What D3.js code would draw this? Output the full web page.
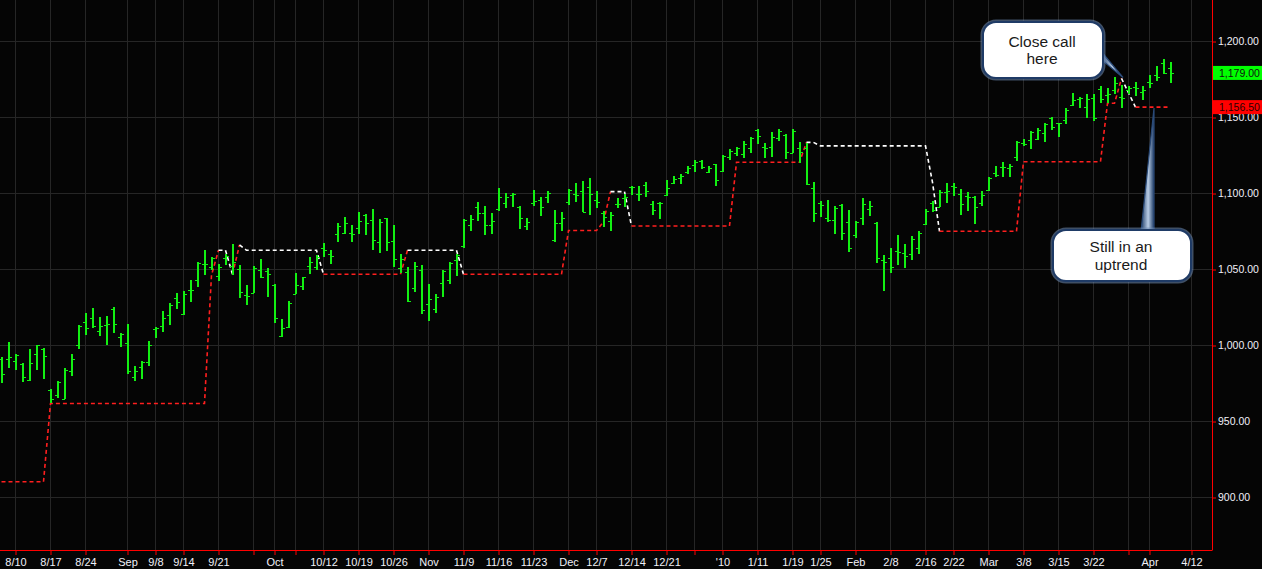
<!DOCTYPE html>
<html><head><meta charset="utf-8">
<script src="https://cdn.jsdelivr.net/npm/d3@7"></script>
<style>html,body{margin:0;padding:0;background:#050505;overflow:hidden}</style>
</head><body><svg id="c" width="1262" height="569"></svg>
<script>
// ---- data (daily bars, index 0 = 8/6/2009) ----
const openP = [990.6,990.6,989.4,987.3,976.8,993.9,997.4,970.4,966.9,964.3,982.7,1000.0,1015.4,1017.5,1009.4,1013.2,1023.5,1005.3,1001.1,979.2,
985.7,989.0,1010.7,1012.5,1019.5,1030.7,1020.2,1036.0,1042.8,1053.1,1051.1,1045.4,1057.0,1052.0,1049.8,1032.9,1034.4,1049.3,1048.5,1039.5,
1006.0,1011.8,1033.3,1038.8,1052.0,1051.0,1063.6,1059.6,1073.0,1073.5,1073.5,1076.8,1085.5,1082.2,1068.0,1083.3,1068.4,1050.4,1048.2,1037.3,
1049.3,1026.8,1023.5,1040.6,1042.8,1055.9,1065.1,1078.9,1091.0,1086.6,1078.9,1089.3,1093.2,1098.7,1090.6,1078.3,1093.2,1095.4,1097.6,1069.1,
1080.0,1094.3,1099.1,1101.3,1103.7,1095.4,1086.6,1081.6,1092.5,1096.9,1104.2,1099.3,1105.3,1092.5,1093.2,1098.7,1106.8,1109.6,1113.6,1118.4,
1121.3,1114.0,1118.9,1114.5,1123.9,1126.1,1125.4,1129.6,1141.4,1130.0,1130.0,1136.0,1138.2,1126.5,1129.4,1129.4,1103.1,1093.2,1083.8,1082.2,
1092.1,1080.7,1072.4,1083.3,1089.3,1080.0,1055.9,1057.5,1061.8,1060.5,1060.0,1064.0,1079.5,1093.2,1091.0,1100.9,1104.6,1099.1,1098.0,1097.6,
1093.2,1102.0,1113.4,1117.3,1116.2,1123.9,1132.7,1134.9,1135.3,1139.3,1149.1,1145.8,1148.0,1157.9,1162.1,1156.8,1162.3,1168.2,1164.5,1167.8,
1163.4,1167.8,1169.5,1166.7,1173.2,1177.6,1185.3,1182.0];
const highP = [991.9,1001.8,994.0,987.9,997.4,1000.0,997.8,970.8,976.3,985.1,994.1,1013.2,1020.8,1024.1,1018.2,1019.1,1024.8,1008.1,1013.8,986.2,
989.5,1002.6,1011.8,1022.4,1027.4,1034.0,1035.7,1042.8,1054.4,1062.5,1057.7,1053.1,1059.9,1066.4,1052.6,1039.5,1052.0,1056.6,1050.4,1040.1,
1017.0,1028.9,1047.1,1045.0,1057.7,1059.2,1067.3,1062.5,1080.5,1084.2,1078.9,1087.5,1086.2,1089.3,1082.9,1083.6,1078.9,1059.9,1051.5,1054.4,
1052.6,1040.1,1033.3,1049.3,1054.4,1059.9,1082.7,1085.5,1094.1,1091.4,1087.1,1103.3,1099.8,1099.8,1091.4,1083.3,1102.0,1097.1,1101.3,1088.8,
1087.7,1102.6,1106.4,1107.9,1109.6,1101.3,1088.4,1087.3,1096.5,1099.1,1104.8,1104.6,1107.0,1094.7,1093.9,1108.3,1111.2,1112.3,1117.8,1121.7,
1121.7,1117.8,1119.1,1125.0,1128.7,1130.5,1134.2,1136.6,1141.9,1133.1,1140.4,1141.9,1139.0,1141.9,1133.3,1132.7,1107.0,1094.7,1095.4,1091.4,
1092.5,1088.8,1081.6,1096.5,1094.7,1080.7,1059.2,1063.6,1072.4,1066.2,1072.0,1075.0,1089.3,1094.7,1102.0,1106.4,1106.4,1102.6,1100.4,1098.0,
1101.5,1110.7,1117.8,1120.4,1118.9,1134.2,1135.3,1141.0,1142.5,1145.8,1149.8,1146.3,1155.7,1166.0,1163.4,1164.9,1165.1,1170.4,1168.9,1176.1,
1171.1,1170.4,1173.2,1170.4,1177.6,1183.6,1187.9,1186.2];
const lowP = [975.2,985.1,983.8,975.9,976.5,983.6,977.6,962.1,964.9,964.3,979.8,997.4,1006.6,1011.0,1006.1,1000.0,1008.1,998.9,980.9,976.5,
977.4,986.4,1004.8,1008.8,1013.2,1023.7,1020.0,1028.5,1038.4,1046.1,1049.3,1042.3,1052.6,1046.1,1031.1,1026.3,1034.0,1043.9,1031.8,1014.7,
1005.5,1011.4,1033.3,1036.2,1046.7,1049.3,1057.7,1053.3,1068.0,1073.0,1068.0,1073.0,1072.4,1062.5,1060.7,1062.1,1051.5,1047.1,1028.5,1035.1,
1020.2,1016.0,1021.3,1031.8,1039.9,1045.4,1064.0,1075.2,1081.6,1072.4,1073.0,1088.4,1090.4,1090.8,1076.3,1075.7,1091.4,1084.9,1093.6,1068.0,
1075.0,1092.1,1094.3,1087.5,1085.5,1090.4,1077.4,1075.2,1089.9,1091.0,1098.7,1094.7,1097.4,1085.5,1083.1,1098.2,1105.7,1106.1,1112.7,1113.8,
1115.6,1112.9,1104.8,1114.0,1121.7,1124.6,1122.8,1126.5,1132.0,1122.8,1123.9,1134.4,1122.1,1126.5,1120.0,1105.0,1081.1,1084.4,1080.7,1073.2,
1069.1,1061.4,1070.6,1079.0,1085.1,1054.2,1035.7,1047.6,1052.6,1050.9,1056.0,1060.0,1078.9,1087.7,1091.0,1093.6,1098.0,1085.5,1088.4,1079.4,
1091.4,1101.5,1110.3,1110.3,1110.3,1121.1,1130.9,1128.7,1134.9,1133.8,1141.4,1136.6,1145.2,1157.2,1155.9,1149.6,1147.6,1159.0,1159.0,1164.9,
1155.7,1164.9,1163.8,1161.2,1168.9,1173.7,1178.1,1172.6];
const closeP = [980.7,991.9,993.3,978.7,987.9,999.8,992.5,964.5,975.4,983.6,990.6,1012.5,1011.0,1012.7,1012.7,1013.6,1013.6,1007.5,982.9,983.1,
988.6,999.8,1011.2,1018.0,1026.3,1028.1,1033.6,1036.4,1054.2,1053.1,1057.0,1051.1,1058.6,1054.4,1034.6,1032.2,1050.4,1044.5,1046.5,1017.5,
1011.5,1027.6,1039.5,1044.5,1054.8,1058.0,1062.5,1058.8,1078.3,1080.0,1073.0,1081.6,1080.0,1069.1,1080.7,1068.0,1056.4,1056.4,1028.9,1052.2,
1023.0,1030.3,1031.8,1048.9,1054.2,1059.2,1082.2,1082.7,1086.6,1078.9,1081.8,1097.1,1097.1,1099.1,1083.3,1080.7,1094.7,1091.0,1099.8,1080.0,
1083.3,1102.0,1098.7,1087.7,1099.1,1094.3,1084.4,1085.5,1092.5,1097.6,1104.2,1099.3,1101.1,1088.8,1093.6,1103.1,1109.2,1110.9,1116.7,1120.6,
1116.9,1116.7,1108.3,1124.1,1127.6,1129.4,1132.0,1136.2,1137.5,1129.4,1136.8,1140.8,1127.2,1141.0,1127.2,1105.7,1086.6,1092.1,1082.2,1089.9,
1073.5,1063.6,1081.1,1092.5,1091.4,1057.0,1054.8,1051.1,1061.4,1058.3,1070.0,1074.0,1088.0,1088.8,1100.9,1101.5,1104.2,1092.8,1097.6,1091.0,
1098.7,1109.6,1111.8,1117.3,1117.8,1133.8,1132.0,1140.4,1141.4,1145.4,1143.2,1145.8,1154.6,1161.2,1162.3,1161.6,1149.1,1161.6,1164.9,1172.1,
1162.3,1169.3,1168.9,1167.8,1172.6,1176.5,1179.2,1179.0];

// trailing stop vertices: bar index, level, side of the segment ending here (1 = long/red, 0 = short/white)
const stopIdx  = [0,6,7,29,30,31,32,33,34,35,45,46,57,58,65,66,80,81,85,86,87,89,90,104,105,114,115,116,117,132,133,134,145,146,157,158,159,160,162,167];
const stopVal  = [910,910,961.5,961.5,1046,1062.3,1062.3,1046.5,1065.8,1062.3,1062.3,1046.5,1046.5,1062.3,1062.3,1046.5,1046.5,1075.3,1075.3,1081,1100.9,1100.9,1078.3,1078.3,1120.2,1120.2,1133.3,1133.3,1131,1131,1107,1074.8,1074.8,1120.6,1120.6,1159,1159,1175.4,1156.5,1156.5];
const stopLong = [1,1,1,1,1,1,0,0,1,0,0,0,1,1,0,0,1,1,1,1,1,0,0,1,1,1,1,0,0,0,0,0,1,1,1,1,1,1,0,1];

const xTickIdx = [2,7,12,18,22,26,31,36,39,42,46,51,56,61,66,71,76,81,85,90,95,99,103,108,113,117,122,127,132,136,141,146,151,156,161,164,170];
const xTickLbl = ["8/10","8/17","8/24","Sep","9/8","9/14","9/21","","Oct","","10/12","10/19","10/26","Nov","11/9","11/16","11/23","Dec","12/7","12/14","12/21","","'10","1/11","1/19","1/25","Feb","2/8","2/16","2/22","Mar","3/8","3/15","3/22","","Apr","4/12"];
const yTicks = [900,950,1000,1050,1100,1150,1200];

const callouts = [
  {lines:["Close call","here"], box:[983,22,120,56], tail:[[1100,50],[1103,61],[1123,77.5]]},
  {lines:["Still in an","uptrend"], box:[1053,230,138,51], tail:[[1141,232],[1154,232],[1154,108]]}
];

// ---- drawing ----
const W=1262, H=569, axisX=1212, axisY=550;
const svg = d3.select("#c");
const x = d3.scaleLinear().domain([0,173]).range([1,1212]);
const y = d3.scaleLinear().domain([900,1200]).range([497,41]);
const FONT = "'Liberation Sans', Arial, sans-serif";

svg.append("rect").attr("width",W).attr("height",H).attr("fill","#050505");

const grid = svg.append("g").attr("stroke","#262626").attr("stroke-width",1).attr("shape-rendering","crispEdges");
grid.selectAll("line.v").data(xTickIdx).join("line")
  .attr("x1",d=>Math.round(x(d))+0.5).attr("x2",d=>Math.round(x(d))+0.5).attr("y1",0).attr("y2",axisY);
grid.selectAll("line.h").data(yTicks).join("line").attr("class","h")
  .attr("x1",0).attr("x2",axisX).attr("y1",d=>Math.round(y(d))+0.5).attr("y2",d=>Math.round(y(d))+0.5);

// stop line runs
const segs=[];
for(let k=1;k<stopIdx.length;k++){
  const side=stopLong[k];
  const last=segs[segs.length-1];
  if(last && last.side===side){ last.pts.push([stopIdx[k],stopVal[k]]); }
  else segs.push({side, pts:[[stopIdx[k-1],stopVal[k-1]],[stopIdx[k],stopVal[k]]]});
}
const line = d3.line().x(d=>x(d[0])+0.5).y(d=>y(d[1]));
svg.append("g").selectAll("path").data(segs).join("path")
  .attr("d",d=>line(d.pts)).attr("fill","none")
  .attr("stroke",d=>d.side?"#ff1f1f":"#ffffff").attr("stroke-width",1.6)
  .attr("stroke-dasharray","4,3");

// OHLC bars
const bars = svg.append("g").attr("stroke","#12f012").attr("shape-rendering","crispEdges");
const idx = d3.range(openP.length);
bars.selectAll("line.b").data(idx).join("line").attr("stroke-width",2)
  .attr("x1",i=>Math.round(x(i))+1).attr("x2",i=>Math.round(x(i))+1).attr("y1",i=>y(highP[i])).attr("y2",i=>y(lowP[i]));
bars.selectAll("line.o").data(idx).join("line").attr("class","o").attr("stroke-width",1.5)
  .attr("x1",i=>Math.round(x(i))-2).attr("x2",i=>Math.round(x(i))+1).attr("y1",i=>Math.round(y(openP[i]))+0.5).attr("y2",i=>Math.round(y(openP[i]))+0.5);
bars.selectAll("line.c").data(idx).join("line").attr("class","c").attr("stroke-width",1.5)
  .attr("x1",i=>Math.round(x(i))+1).attr("x2",i=>Math.round(x(i))+4).attr("y1",i=>Math.round(y(closeP[i]))+0.5).attr("y2",i=>Math.round(y(closeP[i]))+0.5);

// axes
const xAxis = d3.axisBottom(x).tickValues(xTickIdx).tickFormat((d,i)=>xTickLbl[i]).tickSizeInner(5).tickSizeOuter(0).tickPadding(3);
const gx = svg.append("g").attr("transform",`translate(0.5,${axisY})`).call(xAxis);
gx.select(".domain").remove();
gx.selectAll(".tick line").attr("stroke","#ff0000");
gx.selectAll("text").attr("fill","#f0f0f8").attr("font-family",FONT).attr("font-size",11);

const yAxis = d3.axisRight(y).tickValues(yTicks).tickFormat(d3.format(",.2f")).tickSizeInner(4).tickSizeOuter(0).tickPadding(2);
const gy = svg.append("g").attr("transform",`translate(${axisX},0.5)`).call(yAxis);
gy.select(".domain").remove();
gy.selectAll(".tick line").attr("stroke","#ff0000");
gy.selectAll("text").attr("fill","#f0f0f8").attr("font-family",FONT).attr("font-size",10.5);

svg.append("line").attr("x1",0).attr("x2",axisX+0.5).attr("y1",axisY+0.5).attr("y2",axisY+0.5).attr("stroke","#ff0000");
svg.append("line").attr("x1",axisX+0.5).attr("x2",axisX+0.5).attr("y1",0).attr("y2",axisY).attr("stroke","#ff0000");

// last-value tags
const tags=[{v:closeP[closeP.length-1],bg:"#00ff00",fg:"#101010"},{v:stopVal[stopVal.length-1],bg:"#ff0000",fg:"#2a0000"}];
const tg = svg.append("g").selectAll("g").data(tags).join("g").attr("transform",d=>`translate(${axisX+1},${y(d.v)})`);
tg.append("rect").attr("x",0).attr("y",-7).attr("width",W-axisX).attr("height",14).attr("fill",d=>d.bg);
tg.append("text").attr("x",6).attr("y",4).text(d=>d3.format(",.2f")(d.v)).attr("fill",d=>d.fg)
  .attr("font-family",FONT).attr("font-size",10.5);

// callouts
const defs = svg.append("defs");
const grad = defs.append("linearGradient").attr("id","tailg").attr("x1","0").attr("x2","1").attr("y1","0").attr("y2","0");
grad.append("stop").attr("offset","0").attr("stop-color","#1d3a64");
grad.append("stop").attr("offset","0.55").attr("stop-color","#b9cde6");
grad.append("stop").attr("offset","1").attr("stop-color","#1d3a64");
const cg = svg.append("g").selectAll("g").data(callouts).join("g");
cg.append("path").attr("d",d=>"M"+d.tail.map(p=>p.join(",")).join("L")+"Z")
  .attr("fill","url(#tailg)").attr("stroke","#2a4a78").attr("stroke-width",1.2);
cg.append("rect").attr("x",d=>d.box[0]).attr("y",d=>d.box[1]).attr("width",d=>d.box[2]).attr("height",d=>d.box[3])
  .attr("rx",13).attr("fill","none").attr("stroke","#6f8db5").attr("stroke-opacity",0.55).attr("stroke-width",5);
cg.append("rect").attr("x",d=>d.box[0]).attr("y",d=>d.box[1]).attr("width",d=>d.box[2]).attr("height",d=>d.box[3])
  .attr("rx",13).attr("fill","#ffffff").attr("stroke","#1f3b66").attr("stroke-width",2);
cg.each(function(d){
  const g=d3.select(this);
  const cx=d.box[0]+d.box[2]/2-1, cy=d.box[1]+d.box[3]/2;
  d.lines.forEach((t,j)=>{
    g.append("text").attr("x",cx).attr("y",cy+(j-(d.lines.length-1)/2)*17.5+5.5)
      .attr("text-anchor","middle").attr("font-family",FONT).attr("font-size",15.5).attr("fill","#1a1a1a").text(t);
  });
});
</script></body></html>
